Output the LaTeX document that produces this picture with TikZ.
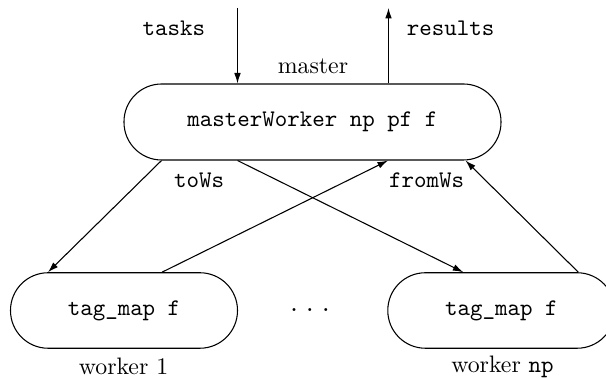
\documentclass[tikz,border=0pt]{standalone}
\usetikzlibrary{calc,arrows.meta}
\begin{document}
\begin{tikzpicture}[x=0.42pt,y=-0.42pt,
  proc/.style={draw,rectangle,rounded corners=15.8pt,inner sep=0pt,line width=0.45pt,
    minimum width=227*0.42pt,minimum height=75.5*0.42pt},
  flow/.style={-{Latex[length=4.4pt,width=2.8pt]},line width=0.45pt},
  lbl/.style={inner sep=0pt,font=\ttfamily}]
\useasboundingbox (0,0) rectangle (606,379);
\node[proc,minimum width=377*0.42pt,minimum height=76*0.42pt] (master) at (312.5,122) {\texttt{masterWorker np pf f}};
\node[proc] (w1) at (124,310.5) {\texttt{tag\_map f}};
\node[proc] (wn) at (501.3,310.5) {\texttt{tag\_map f}};
\coordinate (tin) at (237.5,8);
\coordinate (rout) at (388.5,8);
\node[lbl] (ttasks) at (174,28) {tasks};
\node[lbl] (tres) at (450.5,28) {results};
\node[inner sep=0pt] (tmaster) at (313,66) {master};
\node[lbl] (ttows) at (199,180) {toWs};
\node[lbl] (tfromws) at (426.5,180) {fromWs};
\node[lbl] (dots) at (310,310.5) {.\hspace{1.4pt}.\hspace{1.4pt}.};
\node[inner sep=0pt] (tw1) at (123.5,366) {worker 1};
\node[inner sep=0pt] (twn) at (502.5,367) {worker \texttt{np}};
\draw[flow] (tin) -- ($(master.north)+(-75,0)$);
\draw[flow] ($(master.north)+(76,0)$) -- (rout);
\draw[flow] ($(master.south)+(-151,0)$) -- ($(w1.north)+(-76,0)$);
\draw[flow] ($(master.south)+(-75,0)$) -- ($(wn.north)+(-38,0)$);
\draw[flow] ($(w1.north)+(38,0)$) -- ($(master.south)+(75.5,0)$);
\draw[flow] ($(wn.north)+(77,0)$) -- ($(master.south)+(153,0)$);
\end{tikzpicture}
\end{document}
